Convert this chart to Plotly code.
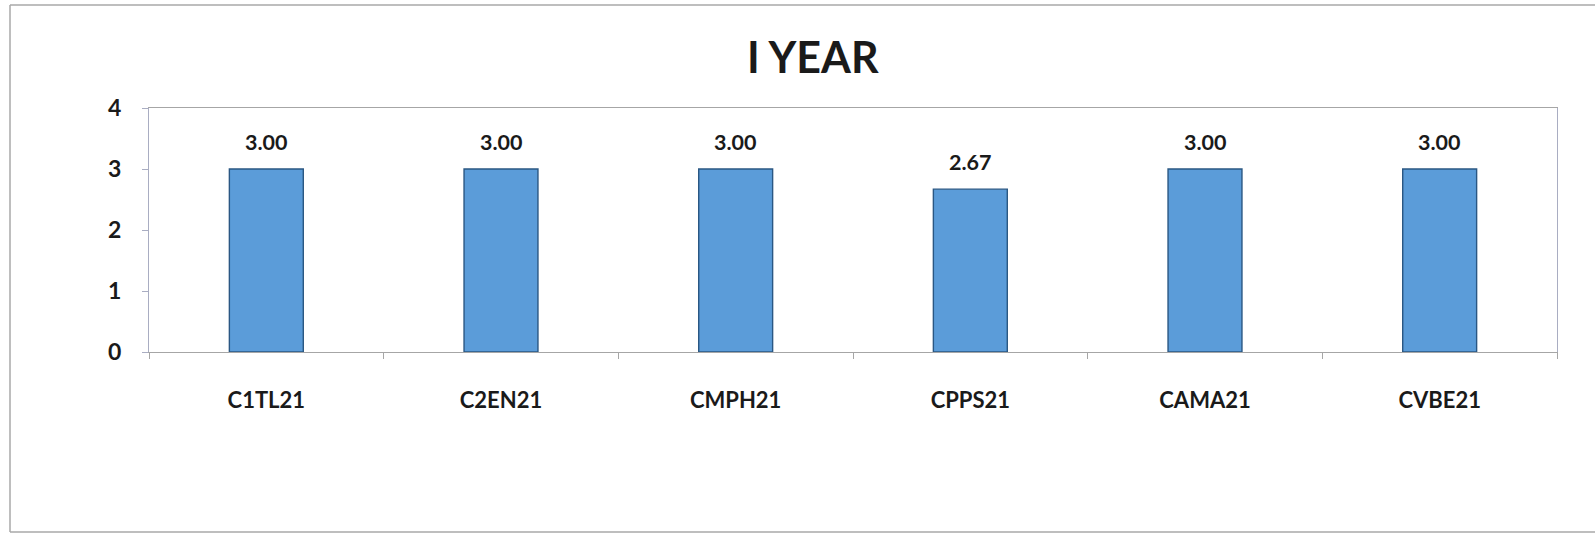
import plotly.graph_objects as go

# Course codes and their attainment levels
courses = ["C1TL21", "C2EN21", "CMPH21", "CPPS21", "CAMA21", "CVBE21"]
attainment = [3.00, 3.00, 3.00, 2.67, 3.00, 3.00]
y_ticks = [0, 1, 2, 3, 4]

W, H = 1595, 535
L, R, T, B = 149, 38, 108, 183
plot_w = W - L - R
plot_h = H - T - B

def px_x(px):
    return (px - L) / plot_w

def px_y(py):
    return (H - B - py) / plot_h

font_family = "Lato, 'Open Sans', sans-serif"
text_color = "#1a1a1a"

fig = go.Figure()

fig.add_trace(go.Bar(
    x=courses,
    y=attainment,
    width=0.315,
    marker=dict(color="#5b9cd9", line=dict(color="#2a5783", width=1.4)),
    hoverinfo="x+y",
))

# value labels above each bar
for c, v in zip(courses, attainment):
    fig.add_annotation(
        x=c, y=v, text=f"{v:.2f}", showarrow=False,
        yanchor="bottom", yshift=12,
        font=dict(family=font_family, size=21.5, color=text_color, weight="bold"),
    )

# chart title
fig.add_annotation(
    x=px_x(813), y=px_y(56), xref="paper", yref="paper",
    text="I YEAR", showarrow=False, xanchor="center", yanchor="middle",
    font=dict(family=font_family, size=43, color=text_color, weight="bold"),
)

# outer chart frame: top, left and bottom edges (the right edge is off the page)
frame = dict(color="#a9a9a9", width=1.5)
for x0, y0, x1, y1 in [(10, 5, 1595, 5), (10, 5, 10, 532), (10, 532, 1595, 532)]:
    fig.add_shape(
        type="line", xref="paper", yref="paper",
        x0=px_x(x0), y0=px_y(y0), x1=px_x(x1), y1=px_y(y1),
        line=frame, layer="below",
    )

fig.update_layout(
    width=W, height=H,
    margin=dict(l=L, r=R, t=T, b=B, pad=0),
    paper_bgcolor="white", plot_bgcolor="white",
    showlegend=False,
    font=dict(family=font_family, color=text_color),
)

fig.update_xaxes(
    type="category",
    showgrid=False,
    showline=True, linecolor="#a6a6a6", linewidth=1, mirror=True,
    ticks="outside", tickson="boundaries", ticklen=6, tickcolor="#a6a6a6",
    ticklabelstandoff=29,
    tickfont=dict(family=font_family, size=22, color=text_color, weight="bold"),
)

fig.update_yaxes(
    range=[0, 4],
    tickvals=y_ticks,
    showgrid=False, zeroline=False,
    showline=True, linecolor="#a9adc2", linewidth=1, mirror=True,
    ticks="outside", ticklen=6, tickcolor="#a9adc2",
    ticklabelstandoff=16,
    tickfont=dict(family=font_family, size=23, color=text_color, weight="bold"),
)

fig.write_html("out.html")
